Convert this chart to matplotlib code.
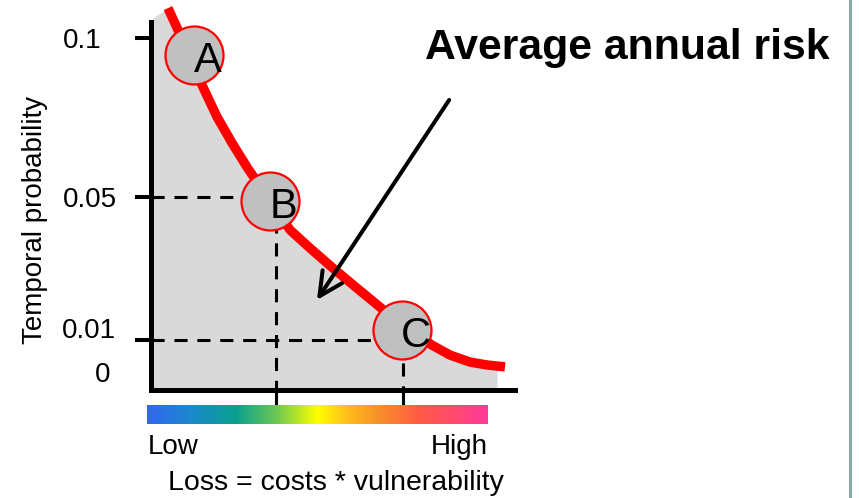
import numpy as np
import matplotlib
matplotlib.use("Agg")
import matplotlib.pyplot as plt
from matplotlib.colors import LinearSegmentedColormap
from matplotlib.lines import Line2D

plt.rcParams['font.family'] = ['Liberation Sans', 'DejaVu Sans']

# ---------------- data ----------------
# exceedance curve: loss (0-100 along the axis) vs temporal probability
curve_loss = [4.67, 7.42, 11.81, 14.01, 18.13, 22.25, 26.37, 32.69, 38.19, 43.68, 50.0,
              56.59, 62.91, 68.96, 77.20, 82.14, 87.64, 92.31, 97.25]
curve_prob = [0.1094, 0.1025, 0.0947, 0.0852, 0.0752, 0.0670, 0.0594, 0.0489, 0.0408,
              0.0357, 0.0301, 0.0245, 0.0192, 0.0142, 0.0084, 0.0053, 0.0031, 0.0022, 0.0016]
# shaded area (average annual risk)
fill_loss = [0.5, 4.67, 7.42, 11.81, 14.01, 18.13, 22.25, 26.37, 32.69, 38.19, 43.68, 50.0,
             56.59, 62.91, 68.96, 77.20, 82.14, 87.64, 92.31, 95.05]
fill_prob = [0.1063, 0.1094, 0.1025, 0.0947, 0.0852, 0.0752, 0.0670, 0.0594, 0.0489, 0.0408,
             0.0357, 0.0301, 0.0245, 0.0192, 0.0142, 0.0084, 0.0053, 0.0031, 0.0022, 0.0015]
# scenario points
point_names = ["A", "B", "C"]
point_loss = [11.81, 32.69, 68.96]
point_prob = [0.0947, 0.0489, 0.0128]
# reference levels (dashed)
level_prob = [0.05, 0.01]
drop_loss = [34.3, 69.2]
# y-axis ticks
ytick_values = [0.1, 0.05, 0.01]
ytick_labels = ["0.1", "0.05", "0.01"]
zero_label = "0"
# arrow pointing into the area
arrow_tail = (81.9, 0.0805)
arrow_head = (45.6, 0.0212)
title_text = "Average annual risk"
ylabel_text = "Temporal probability"
xlabel_text = "Loss = costs * vulnerability"
cbar_low, cbar_high = "Low", "High"
cbar_colors = ["#3366f2", "#1b8acb", "#0aa08e", "#6cc855", "#ffff00", "#ffc21a",
               "#f7902a", "#ff5a44", "#ff4a6e", "#ff3a9a"]
cbar_stops = [0.0, 0.13, 0.26, 0.38, 0.50, 0.58, 0.68, 0.80, 0.90, 1.0]

# ---------------- layout ----------------
W, H = 859, 498
fig = plt.figure(figsize=(W / 100, H / 100), dpi=100)

# nonlinear (schematic) probability axis: probability knots -> pixel height
PK = [-0.02, -0.005625, 0.0, 0.01, 0.05, 0.1, 0.2]
HK = [-46.0, 0.0, 18.0, 50.0, 193.0, 352.0, 670.0]

def fwd(p):
    return np.interp(p, PK, HK)

def inv(h):
    return np.interp(h, HK, PK)

ax = fig.add_axes([151 / W, (H - 390) / H, (515 - 151) / W, 390 / H])
ax.set_yscale('function', functions=(fwd, inv))
ax.set_xlim(0, 100)
ax.set_ylim(-0.005625, 0.11195)
ax.patch.set_alpha(0)

for s in ('top', 'right'):
    ax.spines[s].set_visible(False)
for s in ('left', 'bottom'):
    ax.spines[s].set_linewidth(3.6)
    ax.spines[s].set_capstyle('projecting')
ax.spines['left'].set_bounds(-0.005625, 0.105)

ax.set_yticks(ytick_values)
ax.set_yticklabels([''] * len(ytick_values))
ax.yaxis.set_minor_locator(matplotlib.ticker.NullLocator())
ax.tick_params(axis='y', length=11.5, width=2.9, direction='out', color='black')
ax.set_xticks(drop_loss)
ax.set_xticklabels([''] * len(drop_loss))
ax.xaxis.set_minor_locator(matplotlib.ticker.NullLocator())
ax.tick_params(axis='x', length=10.8, width=2.2, direction='out', color='black')

# tick labels (schematic offsets)
label_dx = [-49, -34, -35]
label_dy = [-10, -10, 2]
for v, t, dx, dy in zip(ytick_values, ytick_labels, label_dx, label_dy):
    ax.annotate(t, xy=(0, v), xycoords=('axes fraction', 'data'), xytext=(dx, dy),
                textcoords='offset pixels', ha='right', va='baseline', fontsize=20,
                annotation_clip=False)
ax.annotate(zero_label, xy=(0, 0.0), xycoords=('axes fraction', 'data'), xytext=(-41, -10),
            textcoords='offset pixels', ha='right', va='baseline', fontsize=20,
            annotation_clip=False)

# shaded area
ax.fill_between(fill_loss, fill_prob, -0.005625, color='#d9d9d9', lw=0, zorder=1)

# dashed reference lines
dash = (0, (4.3, 3.2))
for p, xl, ptl in zip(level_prob, drop_loss, point_loss[1:]):
    ax.plot([0, ptl], [p, p], color='black', lw=2.2, linestyle=dash, zorder=2,
            dash_capstyle='butt')
    ax.plot([xl, xl], [p, -0.005625], color='black', lw=2.2, linestyle=dash, zorder=2,
            dash_capstyle='butt')

# curve
ax.plot(curve_loss, curve_prob, color='#ff0000', lw=6.8, solid_capstyle='butt',
        solid_joinstyle='round', zorder=3, clip_on=False)

# points
ax.scatter(point_loss, point_prob, s=1744, facecolor='#c0c0c0', edgecolor='#ff0000',
           linewidths=1.6, zorder=4, clip_on=False)
for n, x, y in zip(point_names, point_loss, point_prob):
    ax.annotate(n, xy=(x, y), xytext=(14, -17), textcoords='offset pixels', ha='center',
                va='baseline', fontsize=30, zorder=5, annotation_clip=False)

# arrow
ax.annotate('', xy=arrow_head, xytext=arrow_tail,
            arrowprops=dict(arrowstyle='->', lw=2.9, color='black', mutation_scale=42,
                            shrinkA=0, shrinkB=0), zorder=6)

# title text
fig.text(425 / W, 1 - 59 / H, title_text, fontsize=30.8, fontweight='bold',
         ha='left', va='baseline')

# y label
fig.text(35 / W, 1 - 220 / H, ylabel_text, fontsize=20, rotation=90,
         ha='center', va='center')

# colour bar
cax = fig.add_axes([147 / W, (H - 424) / H, (488 - 147) / W, 19 / H])
cmap = LinearSegmentedColormap.from_list('lossmap', list(zip(cbar_stops, cbar_colors)))
cax.imshow(np.linspace(0, 1, 512)[None, :], aspect='auto', cmap=cmap,
           extent=(0, 1, 0, 1))
cax.set_axis_off()

fig.text(148 / W, 1 - 454 / H, cbar_low, fontsize=20, ha='left', va='baseline')
fig.text(488 / W, 1 - 454 / H, cbar_high, fontsize=20, ha='right', va='baseline')
fig.text(336 / W, 1 - 490 / H, xlabel_text, fontsize=20.5, ha='center', va='baseline')

# right frame line of the slide
fig.add_artist(Line2D([850 / W, 850 / W], [0, 1], transform=fig.transFigure,
                      color='#8ca6a6', lw=2.2))

fig.savefig('out.png', dpi=100)
